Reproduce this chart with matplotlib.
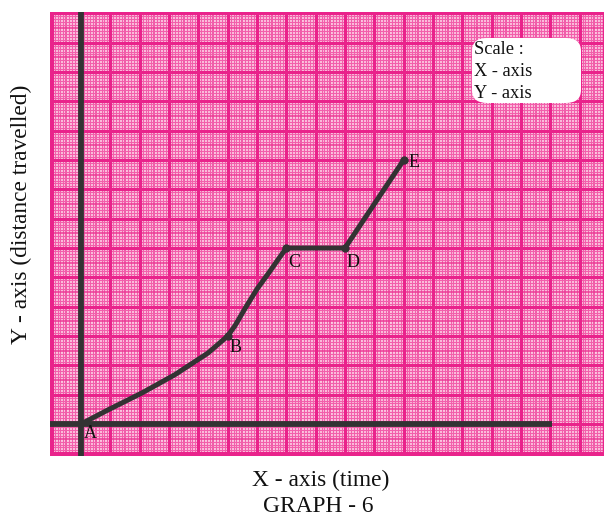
import matplotlib
matplotlib.use("Agg")
import matplotlib.pyplot as plt
from matplotlib.patches import FancyBboxPatch
import numpy as np

# ---- data (graph units: 1 unit = one major square) ----
curve_x = [0, 0.92, 2.08, 3.2, 4.33, 5.0, 5.25, 5.6, 6.0, 6.4, 6.75, 7.0, 9.0, 11.0]
curve_y = [0, 0.48, 1.06, 1.68, 2.42, 3.0, 3.35, 3.95, 4.6, 5.15, 5.65, 6.0, 6.0, 9.0]
point_names = ["A", "B", "C", "D", "E"]
point_x = [0, 5, 7, 9, 11]
point_y = [0, 3, 6, 6, 9]
scale_lines = ["Scale :", "X - axis", "Y - axis"]
x_label = "X - axis (time)"
y_label = "Y - axis (distance travelled)"
caption = "GRAPH - 6"

W, H = 604, 520
fig = plt.figure(figsize=(W / 100, H / 100), dpi=100)
fig.patch.set_facecolor("white")

serif = ["Liberation Serif", "DejaVu Serif"]

# paper region in pixels
pl, pr, pt, pb = 50, 604, 12, 456
ax = fig.add_axes([pl / W, 1 - pb / H, (pr - pl) / W, (pb - pt) / H])
unit = 29.33
ox, oy = 81, 424
ax.set_xlim((pl - ox) / unit, (pr - ox) / unit)
ax.set_ylim((oy - pb) / unit, (oy - pt) / unit)
ax.set_axis_off()
ax.add_patch(plt.Rectangle((0, 0), 1, 1, transform=ax.transAxes,
                           facecolor="#fcd0e5", edgecolor="none", zorder=0))

x0, x1 = ax.get_xlim()
y0, y1 = ax.get_ylim()
minor = np.arange(np.floor(x0 * 10), np.ceil(x1 * 10) + 1) / 10
minor_y = np.arange(np.floor(y0 * 10), np.ceil(y1 * 10) + 1) / 10
c_minor, c_mid, c_major = "#f25fab", "#ec3b96", "#e9238b"
for v in minor:
    k = int(round(v * 10))
    if k % 10 == 0:
        continue
    if k % 5 == 0:
        ax.axvline(v, color=c_mid, lw=1.1, zorder=1)
    else:
        ax.axvline(v, color=c_minor, lw=0.85, zorder=1)
for v in minor_y:
    k = int(round(v * 10))
    if k % 10 == 0:
        continue
    if k % 5 == 0:
        ax.axhline(v, color=c_mid, lw=1.1, zorder=1)
    else:
        ax.axhline(v, color=c_minor, lw=0.85, zorder=1)
for v in range(int(np.floor(x0)), int(np.ceil(x1)) + 1):
    ax.axvline(v, color=c_major, lw=2.2, zorder=2)
for v in range(int(np.floor(y0)), int(np.ceil(y1)) + 1):
    ax.axhline(v, color=c_major, lw=2.2, zorder=2)

# paper border
ax.add_patch(plt.Rectangle((0, 0), 1, 1, transform=ax.transAxes,
                           facecolor="none", edgecolor=c_major, lw=2.5, zorder=3))

# axes lines
dark = "#333333"
ax.plot([0, 0], [y0, y1], color=dark, lw=4.2, solid_capstyle="butt", zorder=5)
ax.plot([x0, (552 - ox) / unit], [0, 0], color=dark, lw=4.2,
        solid_capstyle="butt", zorder=5)

# curve
ax.plot(curve_x, curve_y, color=dark, lw=3.6, solid_joinstyle="round",
        solid_capstyle="round", zorder=6)
ax.plot(point_x[1:], point_y[1:], "o", color=dark, ms=5, zorder=7)

offsets = {"A": (0.1, -0.32), "B": (0.06, -0.38), "C": (0.08, -0.5),
           "D": (0.05, -0.5), "E": (0.15, -0.1)}
for n, px, py in zip(point_names, point_x, point_y):
    dx, dy = offsets[n]
    ax.text(px + dx, py + dy, n, family=serif, fontsize=13, color="#111111",
            ha="left", va="center", zorder=8)

# scale box
bx0, bx1, by0, by1 = 472, 581, 38, 103
box = FancyBboxPatch((bx0 / W, 1 - by1 / H), (bx1 - bx0) / W, (by1 - by0) / H,
                     boxstyle="round,pad=0,rounding_size=0.025",
                     transform=fig.transFigure, facecolor="white",
                     edgecolor="none", zorder=10)
fig.patches.append(box)
for i, s in enumerate(scale_lines):
    fig.text(474 / W, 1 - (50 + 22 * i) / H, s, family=serif, fontsize=13.2,
             color="#111111", ha="left", va="center", zorder=11)

fig.text(321 / W, 1 - 480 / H, x_label, family=serif, fontsize=16.8,
         color="#111111", ha="center", va="center")
fig.text(318 / W, 1 - 507 / H, caption, family=serif, fontsize=16.8,
         color="#111111", ha="center", va="center")
fig.text(21 / W, 1 - 214 / H, y_label, family=serif, fontsize=16.8,
         color="#111111", ha="center", va="center", rotation=90)

fig.savefig("out.png", dpi=100)
